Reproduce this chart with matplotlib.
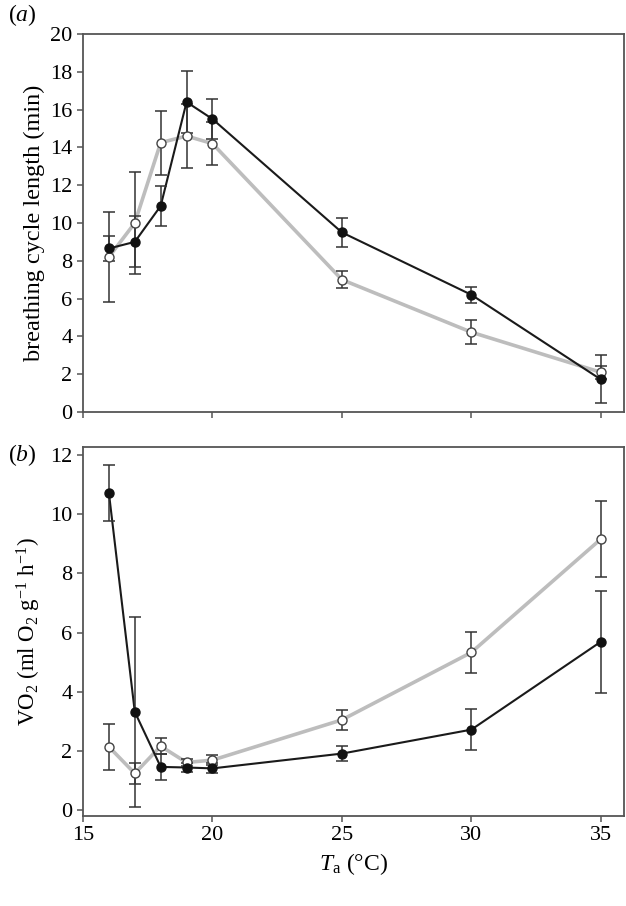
import numpy as np
import matplotlib
matplotlib.use('Agg')
import matplotlib.pyplot as plt

plt.rcParams['font.family'] = ['Liberation Serif', 'DejaVu Serif']
plt.rcParams['mathtext.fontset'] = 'custom'
plt.rcParams['mathtext.rm'] = 'Liberation Serif'
plt.rcParams['mathtext.it'] = 'Liberation Serif:italic'

temp = [16, 17, 18, 19, 20, 25, 30, 35]

# (a) breathing cycle length (min)
cyc_black = [8.65, 9.0, 10.9, 16.4, 15.5, 9.5, 6.2, 1.72]
cyc_black_err = [0.65, 1.35, 1.05, 1.65, 1.05, 0.75, 0.43, 1.27]
cyc_white = [8.2, 10.0, 14.25, 14.6, 14.2, 7.0, 4.22, 2.1]
cyc_white_err = [2.4, 2.7, 1.7, 1.7, 1.15, 0.45, 0.65, 0.33]

# (b) VO2 (ml O2 g-1 h-1)
vo2_black = [10.72, 3.32, 1.46, 1.44, 1.41, 1.91, 2.72, 5.69]
vo2_black_err = [0.95, 3.2, 0.45, 0.15, 0.17, 0.25, 0.7, 1.72]
vo2_white = [2.14, 1.24, 2.16, 1.61, 1.69, 3.05, 5.33, 9.16]
vo2_white_err = [0.78, 0.35, 0.28, 0.13, 0.17, 0.33, 0.68, 1.29]

fig = plt.figure(figsize=(6.26, 9.06), dpi=100)
ax1 = fig.add_axes([0.1326, 0.5453, 0.8644, 0.4172])
ax2 = fig.add_axes([0.1326, 0.0993, 0.8644, 0.4073])

fs = 16
spine_c = '#555555'
err_c = '#333333'


def draw(ax, yb, eb, yw, ew):
    ax.plot(temp, yw, color='#bdbdbd', lw=2.6, zorder=2)
    ax.plot(temp, yb, color='#1a1a1a', lw=1.5, zorder=3)
    ax.errorbar(temp, yw, yerr=ew, fmt='none', ecolor=err_c, elinewidth=1.1,
                capsize=4.5, capthick=1.1, zorder=4)
    ax.errorbar(temp, yb, yerr=eb, fmt='none', ecolor=err_c, elinewidth=1.1,
                capsize=4.5, capthick=1.1, zorder=4)
    ax.plot(temp, yw, 'o', ms=6.5, mfc='white', mec='#444444', mew=1.0, ls='none', zorder=5)
    ax.plot(temp, yb, 'o', ms=6.5, mfc='#111111', mec='#111111', ls='none', zorder=6)
    for s in ax.spines.values():
        s.set_color(spine_c)
        s.set_linewidth(1.3)
    ax.tick_params(direction='out', length=4, width=1.1, color=spine_c, labelsize=fs)
    ax.set_xlim(15, 35.9)
    ax.set_xticks([15, 20, 25, 30, 35])


draw(ax1, cyc_black, cyc_black_err, cyc_white, cyc_white_err)
ax1.set_ylim(0, 20)
ax1.set_yticks(np.arange(0, 21, 2))
ax1.set_xticklabels([])
ax1.set_ylabel('breathing cycle length (min)', fontsize=17.5, labelpad=4)

draw(ax2, vo2_black, vo2_black_err, vo2_white, vo2_white_err)
ax2.set_ylim(-0.2, 12.27)
ax2.set_yticks(np.arange(0, 13, 2))
ax2.set_ylabel(r'VO$_2$ (ml O$_2$ g$^{-1}$ h$^{-1}$)', fontsize=16.5, labelpad=5)
ax2.set_xlabel(r'$T$$_{\mathrm{a}}$ (°C)', fontsize=17, labelpad=4)

fig.text(0.012, 0.983, r'($a$)', fontsize=17, va='center')
fig.text(0.012, 0.498, r'($b$)', fontsize=17, va='center')

fig.savefig('out.png', dpi=100)
